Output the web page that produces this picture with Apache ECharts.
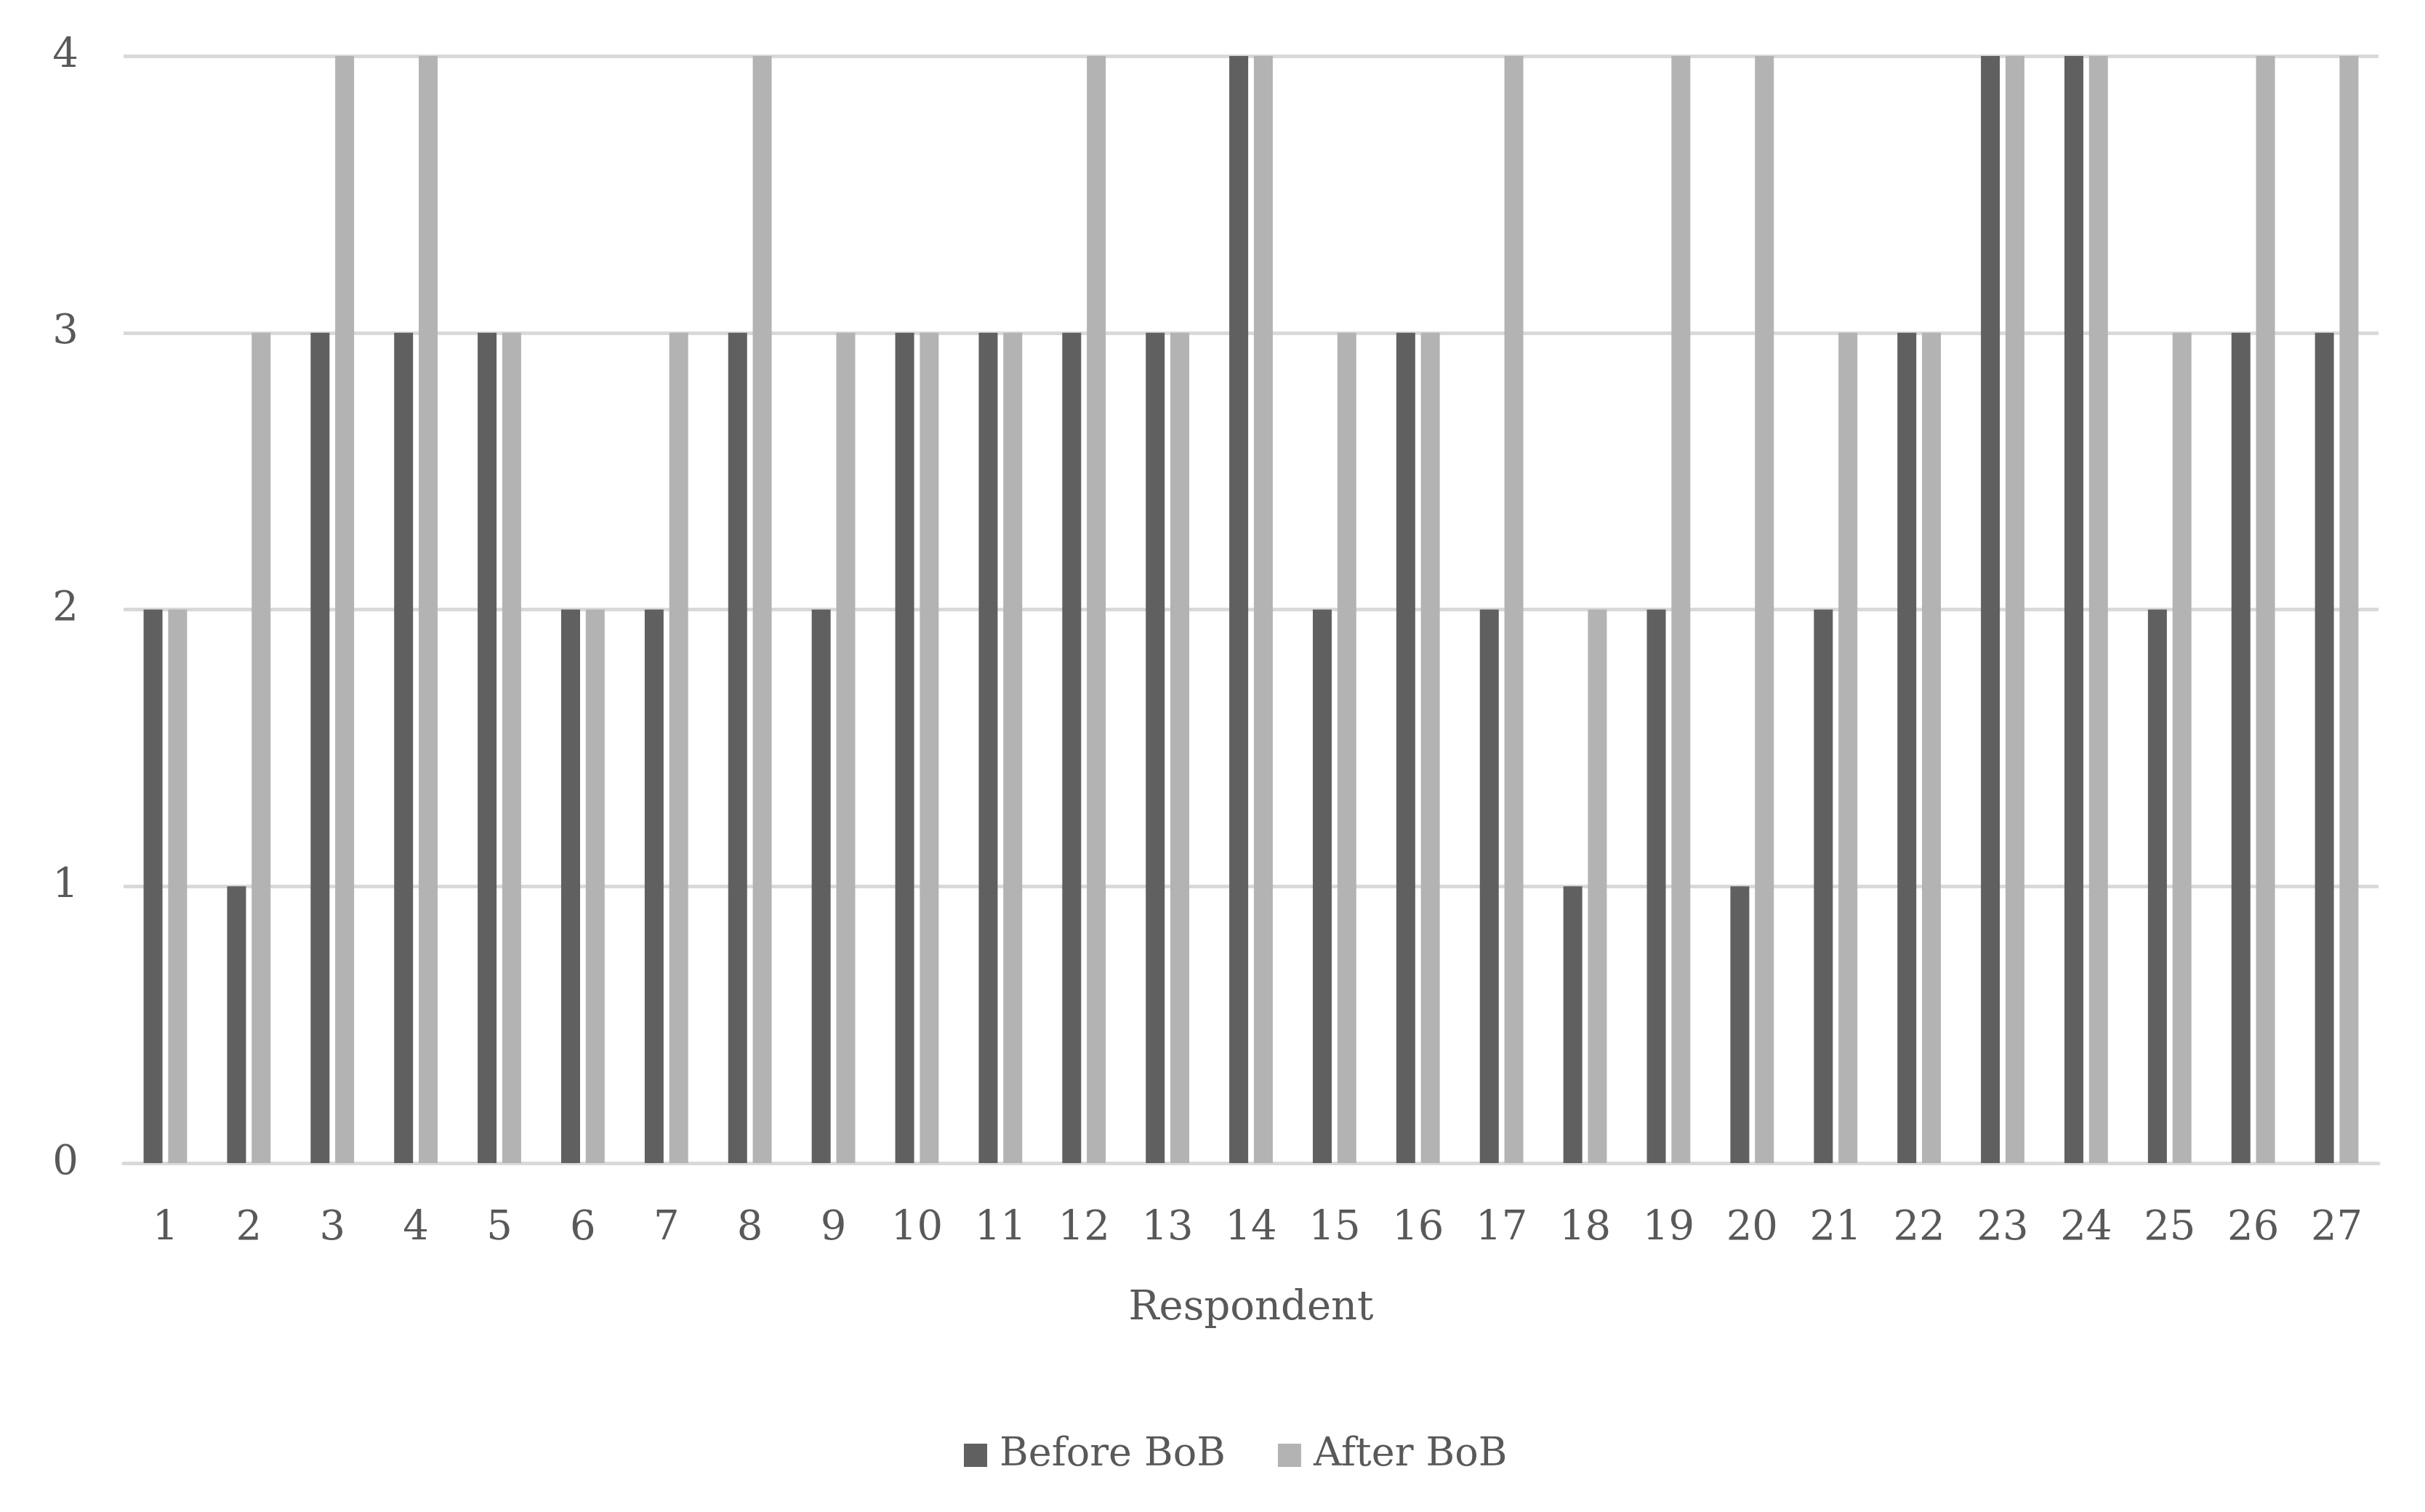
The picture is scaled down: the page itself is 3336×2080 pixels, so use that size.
<!DOCTYPE html>
<html>
<head>
<meta charset="utf-8">
<script src="https://cdn.jsdelivr.net/npm/echarts@6/dist/echarts.min.js"></script>
<style>html,body{margin:0;padding:0;background:#fff}#c{width:3336px;height:2080px}</style>
</head>
<body>
<div id="c"></div>
<script>
const respondents = ['1','2','3','4','5','6','7','8','9','10','11','12','13','14','15','16','17','18','19','20','21','22','23','24','25','26','27'];
const beforeBoB = [2,1,3,3,3,2,2,3,2,3,3,3,3,4,2,3,2,1,2,1,2,3,4,4,2,3,3];
const afterBoB  = [2,3,4,4,3,2,3,4,3,3,3,4,3,4,3,3,4,2,4,4,3,3,4,4,3,4,4];
const yTicks = [0,1,2,3,4];

const font = 'DejaVu Serif';
const textColor = '#595959';
const chart = echarts.init(document.getElementById('c'), null, {renderer:'canvas'});
chart.setOption({
  animation: false,
  backgroundColor: '#ffffff',
  grid: {left: 170, right: 64, top: 77, bottom: 480, containLabel: false},
  legend: {
    bottom: 46, left: 1321,
    itemWidth: 32, itemHeight: 32, itemGap: 72,
    icon: 'rect',
    textStyle: {fontFamily: font, fontSize: 54, color: textColor, padding: [0,0,0,12]},
    data: ['Before BoB', 'After BoB']
  },
  xAxis: {
    type: 'category',
    data: respondents,
    name: 'Respondent',
    nameLocation: 'middle',
    nameGap: 172,
    nameTextStyle: {fontFamily: font, fontSize: 56, color: textColor},
    axisLine: {show: true, lineStyle: {color: '#d9d9d9', width: 5}},
    axisTick: {show: false},
    axisLabel: {fontFamily: font, fontSize: 56, color: textColor, margin: 62, interval: 0}
  },
  yAxis: {
    type: 'value',
    min: yTicks[0], max: yTicks[yTicks.length-1], interval: 1,
    axisLine: {show: false},
    axisTick: {show: false},
    splitLine: {lineStyle: {color: '#d9d9d9', width: 5}},
    axisLabel: {fontFamily: font, fontSize: 56, color: textColor, margin: 62}
  },
  series: [
    {name: 'Before BoB', type: 'bar', data: beforeBoB, barWidth: 26, barGap: '30%',
     itemStyle: {color: '#606060'}},
    {name: 'After BoB', type: 'bar', data: afterBoB, barWidth: 26, barGap: '30%',
     itemStyle: {color: '#b3b3b3'}}
  ]
});
</script>
</body>
</html>
